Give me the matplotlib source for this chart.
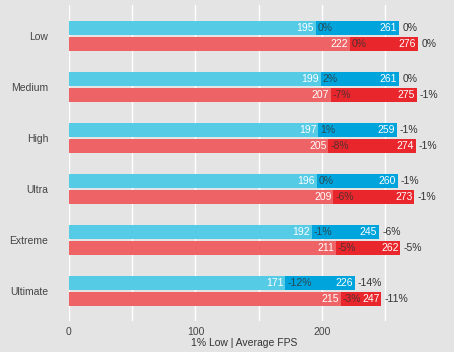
import matplotlib.pyplot as plt
import numpy as np

categories = ['Low', 'Medium', 'High', 'Ultra', 'Extreme', 'Ultimate']

blue_low = [195, 199, 197, 196, 192, 171]
blue_low_pct = ['0%', '2%', '1%', '0%', '-1%', '-12%']
blue_avg = [261, 261, 259, 260, 245, 226]
blue_avg_pct = ['0%', '0%', '-1%', '-1%', '-6%', '-14%']

red_low = [222, 207, 205, 209, 211, 215]
red_low_pct = ['0%', '-7%', '-8%', '-6%', '-5%', '-3%']
red_avg = [276, 275, 274, 273, 262, 247]
red_avg_pct = ['0%', '-1%', '-1%', '-1%', '-5%', '-11%']

plt.rcParams['font.family'] = ['Liberation Sans', 'DejaVu Sans']

bg = '#e4e4e4'
fig = plt.figure(figsize=(4.54, 3.52), dpi=100, facecolor=bg)
ax = fig.add_axes([69 / 454, 1 - 321 / 352, (420 - 69) / 454, (321 - 5) / 352])
ax.set_facecolor(bg)

y = np.arange(len(categories))
h = 0.275
off = 0.157
fs = 7.5

series = [
    (-off, blue_low, blue_low_pct, blue_avg, blue_avg_pct, '#56cbe6', '#00a4dc'),
    (off, red_low, red_low_pct, red_avg, red_avg_pct, '#ee6466', '#e8262b'),
]

for dy, low, low_pct, avg, avg_pct, light, dark in series:
    yy = y + dy
    ax.barh(yy, low, height=h, color=light, zorder=2)
    ax.barh(yy, np.array(avg) - np.array(low), left=low, height=h, color=dark, zorder=2)
    for i in range(len(categories)):
        ax.text(low[i] - 1.5, yy[i], str(low[i]), ha='right', va='center',
                color='white', fontsize=fs, zorder=3)
        ax.text(low[i] + 1.5, yy[i], low_pct[i], ha='left', va='center',
                color='#333333', alpha=0.8, fontsize=fs, zorder=3)
        ax.text(avg[i] - 1.5, yy[i], str(avg[i]), ha='right', va='center',
                color='white', fontsize=fs, zorder=3)
        ax.text(avg[i] + 2.5, yy[i], avg_pct[i], ha='left', va='center',
                color='#333333', fontsize=fs, zorder=3, clip_on=False)

ax.set_xlim(0, 277.5)
ax.set_ylim(len(categories) - 1 + 0.59, -0.61)
ax.set_xticks([0, 100, 200])
ax.set_xticks([50, 150, 250], minor=True)
ax.set_yticks(y)
ax.set_yticklabels(categories)
ax.grid(True, axis='x', which='both', color='white', linewidth=1, zorder=0)
ax.set_axisbelow(True)
for s in ax.spines.values():
    s.set_visible(False)
ax.tick_params(axis='both', which='both', length=0, colors='#444444', labelsize=fs)
ax.tick_params(axis='y', pad=15)
ax.tick_params(axis='x', pad=4)
ax.set_xlabel('1% Low | Average FPS', fontsize=fs, color='#333333', labelpad=1)

fig.savefig('out.png', dpi=100, facecolor=bg)
